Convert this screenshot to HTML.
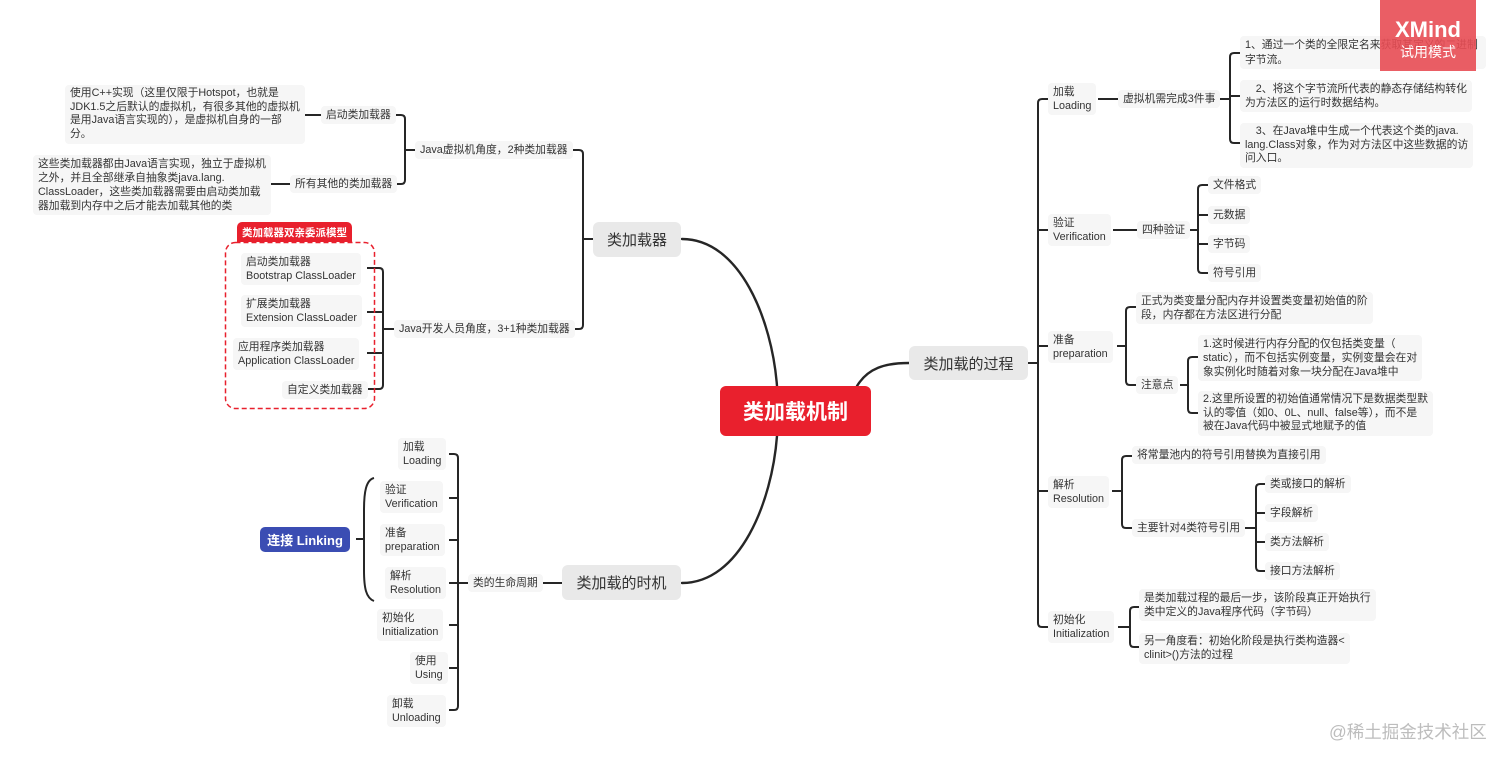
<!DOCTYPE html>
<html>
<head>
<meta charset="utf-8">
<style>
  html,body{margin:0;padding:0;}
  body{width:1512px;height:763px;position:relative;overflow:hidden;background:#fff;
    font-family:"Liberation Sans","Noto Sans CJK SC",sans-serif;color:#333;}
  svg.lines{position:absolute;left:0;top:0;}
  .n{position:absolute;background:#f6f6f6;border-radius:4px;padding:2px 5px;font-size:10.8px;line-height:14px;white-space:nowrap;color:#333;}
  .m{position:absolute;background:#e9e9e9;border-radius:6px;font-size:15px;color:#333;display:flex;align-items:center;justify-content:center;white-space:nowrap;}
  .ind{text-indent:13px;}
</style>
</head>
<body>
<svg class="lines" width="1512" height="763" viewBox="0 0 1512 763">
  <g fill="none" stroke="#262626" stroke-width="2.4" stroke-linecap="round">
    <path d="M777 386C772 320 740 239 682 239"/>
    <path d="M777 436C772 502 740 583 682 583"/>
    <path d="M857 386C868 368 885 363 909 363"/>
  </g>
  <g fill="none" stroke="#262626" stroke-width="2">
    <!-- left top -->
    <path d="M302 115H321"/>
    <path d="M269 184H290"/>
    <path d="M395 115H401Q405 115 405 119V180Q405 184 401 184H395M405 150H415"/>
    <path d="M367 268H379Q383 268 383 272V385Q383 389 379 389H367M367 312H383M367 353H383M383 329H394"/>
    <path d="M572 150H579Q583 150 583 154V325Q583 329 579 329H572M583 239H593"/>
    <!-- left bottom -->
    <path d="M449 454H454Q458 454 458 458V706Q458 710 454 710H449M449 498H458M449 540H458M449 583H468M449 625H458M449 668H458"/>
    <path d="M541 583H562"/>
    <path d="M374 478C366 480 364 492 364 510V570C364 588 366 598 374 601"/>
    <path d="M356 539H364"/>
    <!-- right -->
    <path d="M1048 99H1042Q1038 99 1038 103V623Q1038 627 1042 627H1048M1038 230H1048M1038 346H1048M1038 491H1048M1028 363H1038"/>
    <path d="M1098 99H1118"/>
    <path d="M1240 53H1234Q1230 53 1230 57V139Q1230 143 1234 143H1240M1230 96H1240M1220 99H1230"/>
    <path d="M1113 230H1137"/>
    <path d="M1208 185H1202Q1198 185 1198 189V269Q1198 273 1202 273H1208M1198 215H1208M1198 244H1208M1189 230H1198"/>
    <path d="M1136 307H1130Q1126 307 1126 311V381Q1126 385 1130 385H1136M1117 346H1126"/>
    <path d="M1198 357H1192Q1188 357 1188 361V409Q1188 413 1192 413H1198M1180 385H1188"/>
    <path d="M1132 456H1126Q1122 456 1122 460V524Q1122 528 1126 528H1132M1112 491H1122"/>
    <path d="M1265 484H1260Q1256 484 1256 488V567Q1256 571 1260 571H1265M1256 513H1265M1256 542H1265M1244 528H1256"/>
    <path d="M1140 607H1134Q1130 607 1130 611V643Q1130 647 1134 647H1140M1118 627H1130"/>
  </g>
  <!-- dashed group box -->
  <rect x="225.5" y="242.5" width="149" height="166" rx="10" ry="10" fill="none" stroke="#e8202d" stroke-width="1.5" stroke-dasharray="5,3"/>
</svg>

<!-- center -->
<div style="position:absolute;left:720px;top:386px;width:151px;height:50px;background:#e9202d;border-radius:6px;color:#fff;font-size:21px;font-weight:bold;display:flex;align-items:center;justify-content:center;">类加载机制</div>

<!-- main branches -->
<div class="m" style="left:593px;top:222px;width:88px;height:35px;">类加载器</div>
<div class="m" style="left:909px;top:346px;width:119px;height:34px;">类加载的过程</div>
<div class="m" style="left:562px;top:565px;width:119px;height:35px;">类加载的时机</div>

<!-- left top -->
<div class="n" style="left:65px;top:85px;line-height:13.7px;">使用C++实现（这里仅限于Hotspot，也就是<br>JDK1.5之后默认的虚拟机，有很多其他的虚拟机<br>是用Java语言实现的），是虚拟机自身的一部<br>分。</div>
<div class="n" style="left:321px;top:106px;">启动类加载器</div>
<div class="n" style="left:33px;top:155px;line-height:14px;">这些类加载器都由Java语言实现，独立于虚拟机<br>之外，并且全部继承自抽象类java.lang.<br>ClassLoader，这些类加载器需要由启动类加载<br>器加载到内存中之后才能去加载其他的类</div>
<div class="n" style="left:290px;top:175px;">所有其他的类加载器</div>
<div class="n" style="left:415px;top:141px;">Java虚拟机角度，2种类加载器</div>

<div style="position:absolute;left:237px;top:222px;width:115px;height:20px;background:#e8202d;border-radius:5px 5px 0 0;color:#fff;font-size:10.5px;font-weight:bold;display:flex;align-items:center;justify-content:center;white-space:nowrap;">类加载器双亲委派模型</div>
<div class="n" style="left:241px;top:253px;">启动类加载器<br>Bootstrap ClassLoader</div>
<div class="n" style="left:241px;top:295px;">扩展类加载器<br>Extension ClassLoader</div>
<div class="n" style="left:233px;top:338px;">应用程序类加载器<br>Application ClassLoader</div>
<div class="n" style="left:282px;top:381px;">自定义类加载器</div>
<div class="n" style="left:394px;top:320px;">Java开发人员角度，3+1种类加载器</div>

<!-- left bottom -->
<div style="position:absolute;left:260px;top:527px;width:90px;height:25px;background:#3b4db3;border-radius:5px;color:#fff;font-size:13px;font-weight:bold;display:flex;align-items:center;justify-content:center;white-space:nowrap;">连接 Linking</div>
<div class="n" style="left:398px;top:438px;">加载<br>Loading</div>
<div class="n" style="left:380px;top:481px;">验证<br>Verification</div>
<div class="n" style="left:380px;top:524px;">准备<br>preparation</div>
<div class="n" style="left:385px;top:567px;">解析<br>Resolution</div>
<div class="n" style="left:377px;top:609px;">初始化<br>Initialization</div>
<div class="n" style="left:410px;top:652px;">使用<br>Using</div>
<div class="n" style="left:387px;top:695px;">卸载<br>Unloading</div>
<div class="n" style="left:468px;top:574px;">类的生命周期</div>

<!-- right: loading -->
<div class="n" style="left:1048px;top:83px;">加载<br>Loading</div>
<div class="n" style="left:1118px;top:90px;">虚拟机需完成3件事</div>
<div class="n" style="left:1240px;top:36px;line-height:14.5px;padding-right:8px;">1、通过一个类的全限定名来获取其定义的二进制<br>字节流。</div>
<div class="n" style="left:1240px;top:80px;">　2、将这个字节流所代表的静态存储结构转化<br>为方法区的运行时数据结构。</div>
<div class="n" style="left:1240px;top:123px;line-height:13.5px;">　3、在Java堆中生成一个代表这个类的java.<br>lang.Class对象，作为对方法区中这些数据的访<br>问入口。</div>

<!-- verification -->
<div class="n" style="left:1048px;top:214px;">验证<br>Verification</div>
<div class="n" style="left:1137px;top:221px;">四种验证</div>
<div class="n" style="left:1208px;top:176px;">文件格式</div>
<div class="n" style="left:1208px;top:206px;">元数据</div>
<div class="n" style="left:1208px;top:235px;">字节码</div>
<div class="n" style="left:1208px;top:264px;">符号引用</div>

<!-- preparation -->
<div class="n" style="left:1048px;top:331px;">准备<br>preparation</div>
<div class="n" style="left:1136px;top:292px;">正式为类变量分配内存并设置类变量初始值的阶<br>段，内存都在方法区进行分配</div>
<div class="n" style="left:1136px;top:376px;">注意点</div>
<div class="n" style="left:1198px;top:335px;">1.这时候进行内存分配的仅包括类变量（<br>static），而不包括实例变量，实例变量会在对<br>象实例化时随着对象一块分配在Java堆中</div>
<div class="n" style="left:1198px;top:391px;line-height:13.5px;">2.这里所设置的初始值通常情况下是数据类型默<br>认的零值（如0、0L、null、false等），而不是<br>被在Java代码中被显式地赋予的值</div>

<!-- resolution -->
<div class="n" style="left:1048px;top:476px;">解析<br>Resolution</div>
<div class="n" style="left:1132px;top:446px;">将常量池内的符号引用替换为直接引用</div>
<div class="n" style="left:1132px;top:519px;">主要针对4类符号引用</div>
<div class="n" style="left:1265px;top:475px;">类或接口的解析</div>
<div class="n" style="left:1265px;top:504px;">字段解析</div>
<div class="n" style="left:1265px;top:533px;">类方法解析</div>
<div class="n" style="left:1265px;top:562px;">接口方法解析</div>

<!-- initialization -->
<div class="n" style="left:1048px;top:611px;">初始化<br>Initialization</div>
<div class="n" style="left:1139px;top:589px;">是类加载过程的最后一步，该阶段真正开始执行<br>类中定义的Java程序代码（字节码）</div>
<div class="n" style="left:1139px;top:633px;line-height:13.5px;">另一角度看：初始化阶段是执行类构造器&lt;<br>clinit&gt;()方法的过程</div>

<!-- XMind overlay -->
<div style="position:absolute;left:1380px;top:0;width:96px;height:71px;background:rgba(232,76,84,0.9);color:#fff;text-align:center;">
  <div style="font-size:22px;font-weight:bold;line-height:24px;margin-top:18px;">XMind</div>
  <div style="font-size:14px;line-height:18px;margin-top:1px;">试用模式</div>
</div>

<!-- watermark -->
<div style="position:absolute;left:1329px;top:721px;font-size:17.5px;color:#bdbdbd;white-space:nowrap;line-height:22px;">@稀土掘金技术社区</div>
</body>
</html>
